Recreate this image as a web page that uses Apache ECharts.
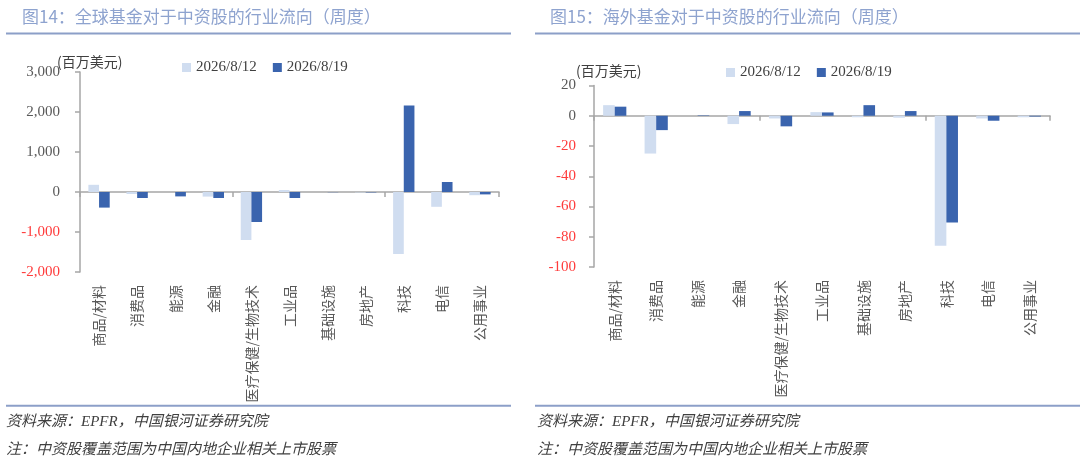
<!DOCTYPE html>
<html>
<head>
<meta charset="utf-8">
<script src="https://cdn.jsdelivr.net/npm/echarts@6/dist/echarts.min.js"></script>
<style>
  html, body { margin: 0; padding: 0; background: #fff; }
  #chart { width: 1080px; height: 468px; }
</style>
</head>
<body>
<div id="chart"></div>
<script>
// 行业分类
const categories = ['商品/材料', '消费品', '能源', '金融', '医疗保健/生物技术', '工业品', '基础设施', '房地产', '科技', '电信', '公用事业']
const weekNames = ['2026/8/12', '2026/8/19']

// 图14：全球基金（百万美元）
const globalPrev = [180, -50, 0, -115, -1200, 50, 0, -10, -1550, -370, -80]
const globalCurr = [-390, -150, -110, -150, -750, -150, -5, -10, 2160, 250, -60]
const globalTicks = { min: -2000, max: 3000, interval: 1000 }

// 图15：海外基金（百万美元）
const overseasPrev = [7, -25, 0, -5.5, -1.8, 2.4, -1, -1.3, -86, -1.8, -1]
const overseasCurr = [6, -9.5, 0.3, 3.1, -7, 2.2, 7, 3.1, -70.5, -3.3, -0.5]
const overseasTicks = { min: -100, max: 20, interval: 20 }

const LIGHT = '#d0ddf0'
const DARK = '#3a64ae'
const AXIS = '#a6a6a6'
const SERIF = '"Liberation Serif", "Noto Sans CJK SC", serif'
const CJK = '"Noto Sans CJK SC", sans-serif'

const el = document.getElementById('chart')
const chart = echarts.init(el)

function valueAxis(grid, ticks, margin, fmt) {
  return {
    type: 'value', gridIndex: grid,
    min: ticks.min, max: ticks.max, interval: ticks.interval,
    axisLine: { show: true, lineStyle: { color: AXIS, width: 1.5 } },
    axisTick: { show: true, length: 5, lineStyle: { color: AXIS, width: 1.5 } },
    splitLine: { show: false },
    axisLabel: {
      margin, fontFamily: SERIF, fontSize: 15,
      color: (v) => (Number(v) < 0 ? '#ff3b3b' : '#595959'),
      formatter: fmt
    }
  }
}

// 零轴（只画线和刻度）+ 底部标签轴
function catAxes(grid) {
  return [
    {
      type: 'category', gridIndex: grid, data: categories,
      axisLine: { onZero: true, lineStyle: { color: AXIS, width: 1.5 } },
      axisTick: { show: true, length: 5, lineStyle: { color: AXIS, width: 1.5 } },
      axisLabel: { show: false }
    },
    {
      type: 'category', gridIndex: grid, data: categories, position: 'bottom',
      axisLine: { show: false, onZero: false },
      axisTick: { show: false },
      axisLabel: {
        interval: 0, rotate: 90, margin: 13,
        fontFamily: CJK, fontSize: 14, color: '#595959'
      }
    }
  ]
}

function bars(grid, prev, curr) {
  const base = { type: 'bar', xAxisIndex: grid * 2, yAxisIndex: grid, barGap: '0%', barCategoryGap: '44%' }
  return [
    { ...base, name: weekNames[0], data: prev, itemStyle: { color: LIGHT } },
    { ...base, name: weekNames[1], data: curr, itemStyle: { color: DARK } }
  ]
}

function legend(left, top) {
  return {
    data: weekNames, left, top, icon: 'rect', itemWidth: 9, itemHeight: 9, itemGap: 16,
    selectedMode: false,
    textStyle: { fontFamily: SERIF, fontSize: 15, color: '#404040' }
  }
}

function text(x, y, str, style) {
  return { type: 'text', x, y, style: { text: str, verticalAlign: 'middle', ...style } }
}
function hline(x1, x2, y) {
  return { type: 'line', shape: { x1, y1: y, x2, y2: y }, style: { stroke: '#8c9fc8', lineWidth: 2 } }
}

const titleStyle = { fontFamily: CJK, fontSize: 17, fill: '#8ea3cf' }
const noteStyle = { fontFamily: SERIF, fontSize: 15, fill: '#404040', fontStyle: 'italic' }
const unitStyle = { fontFamily: CJK, fontSize: 14, fill: '#404040' }

chart.setOption({
  animation: false,
  grid: [
    { left: 80, right: 581, top: 72, bottom: 196 },
    { left: 594, right: 30, top: 85.5, bottom: 201 }
  ],
  legend: [legend(177, 55), legend(721, 60)],
  xAxis: [...catAxes(0), ...catAxes(1)],
  yAxis: [
    valueAxis(0, globalTicks, 20, (v) => Number(v).toLocaleString('en-US')),
    valueAxis(1, overseasTicks, 18, (v) => String(v))
  ],
  series: [...bars(0, globalPrev, globalCurr), ...bars(1, overseasPrev, overseasCurr)],
  graphic: [
    text(22, 17, '图14：全球基金对于中资股的行业流向（周度）', titleStyle),
    text(550, 17, '图15：海外基金对于中资股的行业流向（周度）', titleStyle),
    hline(6, 511, 33.5),
    hline(535, 1080, 33.5),
    text(57, 62, '(百万美元)', unitStyle),
    text(576, 71, '(百万美元)', unitStyle),
    hline(6, 511, 405.7),
    hline(535, 1080, 405.7),
    text(6, 422, '资料来源：EPFR，中国银河证券研究院', noteStyle),
    text(537, 422, '资料来源：EPFR，中国银河证券研究院', noteStyle),
    text(6, 450, '注：中资股覆盖范围为中国内地企业相关上市股票', noteStyle),
    text(537, 450, '注：中资股覆盖范围为中国内地企业相关上市股票', noteStyle)
  ]
})

window.addEventListener('resize', () => chart.resize())
</script>
</body>
</html>
